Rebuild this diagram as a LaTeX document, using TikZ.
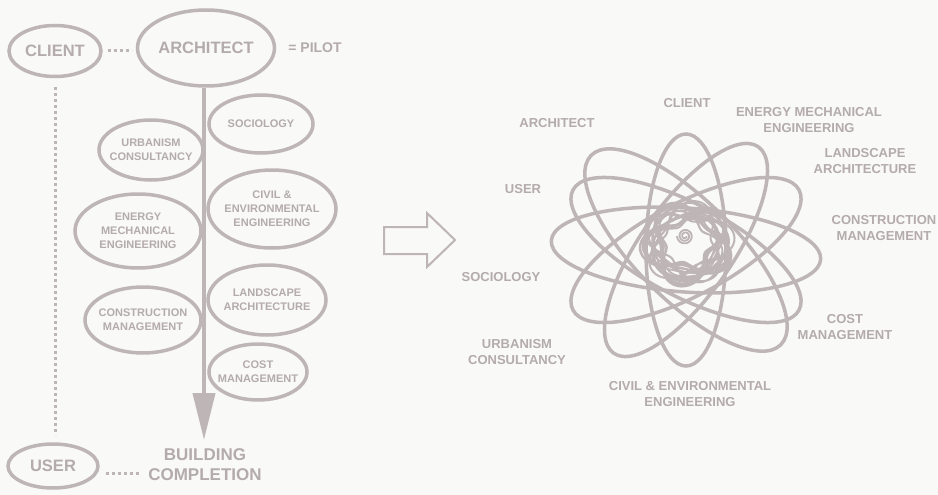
\documentclass[tikz,border=0pt]{standalone}
\usepackage{fontspec}
\setmainfont{Liberation Sans}
\usetikzlibrary{shapes.geometric,arrows.meta}
\definecolor{ink}{RGB}{190,182,182}
\definecolor{txt}{RGB}{180,171,171}
\definecolor{paper}{RGB}{249,249,247}
\begin{document}
\begin{tikzpicture}[x=1pt,y=-1pt,
  oval/.style={ellipse, draw=ink, line width=3.5pt, inner sep=0pt},
  otext/.style={text=txt, font=\bfseries\fontsize{11}{14}\selectfont, align=center},
  btext/.style={text=txt, font=\bfseries\fontsize{16.5}{20}\selectfont, align=center},
  lbl/.style={text=txt, font=\bfseries\fontsize{13}{15.5}\selectfont, align=center},
  dotline/.style={draw=ink, line width=3pt, dash pattern=on 3pt off 3pt},
  orbit/.style={draw=ink, line width=3.5pt}]
\fill[paper] (0,0) rectangle (938,495);
\useasboundingbox (0,0) rectangle (938,495);

% ---- left diagram ----
\node[oval, minimum width=92pt, minimum height=51pt, label={[btext]center:CLIENT}] (client) at (55,51) {};
\node[oval, minimum width=137pt, minimum height=76pt, label={[btext]center:ARCHITECT}] (architect) at (206,48) {};
\node[text=txt, font=\bfseries\fontsize{14}{16}\selectfont] (pilot) at (315,48) {= PILOT};
\node[oval, minimum width=104pt, minimum height=58pt, label={[otext]center:SOCIOLOGY}] (sociology) at (261,124) {};
\node[oval, minimum width=104pt, minimum height=60pt, label={[otext]center:{URBANISM\\CONSULTANCY}}] (urban) at (151,150) {};
\node[oval, minimum width=126pt, minimum height=74pt, label={[otext]center:{ENERGY\\MECHANICAL\\ENGINEERING}}] (energy) at (138,231) {};
\node[oval, minimum width=128pt, minimum height=78pt, label={[otext]center:{CIVIL \&\\ENVIRONMENTAL\\ENGINEERING}}] (civil) at (272,209) {};
\node[oval, minimum width=118pt, minimum height=70pt, label={[otext]center:{LANDSCAPE\\ARCHITECTURE}}] (landscape) at (267,300) {};
\node[oval, minimum width=116pt, minimum height=66pt, label={[otext]center:{CONSTRUCTION\\MANAGEMENT}}] (construction) at (143,320) {};
\node[oval, minimum width=98pt, minimum height=56pt, label={[otext]center:{COST\\MANAGEMENT}}] (cost) at (258,372) {};
\node[oval, minimum width=90pt, minimum height=44pt, label={[btext]center:USER}] (user) at (53,466) {};
\node[text=txt, font=\bfseries\fontsize{17}{20}\selectfont, align=center] (building) at (205,465) {BUILDING\\COMPLETION};
\coordinate (tip) at (204,440);

\draw[ink, line width=4pt, -{Triangle[length=47pt,width=22pt]}] (architect.south -| tip) -- (tip);
\draw[dotline, shorten <=5pt, shorten >=4pt] (client.east) -- (client.east -| architect.west);
\draw[dotline, shorten <=9pt, shorten >=7pt] (client.south) -- (client.south |- user.north);
\draw[dotline, shorten <=6pt, shorten >=6pt] ([yshift=-7pt]user.east) -- ([yshift=-7pt]user.east -| building.west);

% ---- hollow arrow ----
\draw[ink, line width=2pt, line join=miter] (384,227) -- (427,227) -- (427,213) -- (455,240) -- (427,267) -- (427,254) -- (384,254) -- cycle;

% ---- atom ----
\begin{scope}[shift={(686,250)}]
  \draw[orbit, rotate=90]  (0,0) ellipse [x radius=116pt, y radius=40pt];
  \draw[orbit, rotate=135] (0,0) ellipse [x radius=134pt, y radius=50pt];
  \draw[orbit, rotate=55]  (0,0) ellipse [x radius=126pt, y radius=46pt];
  \draw[orbit, rotate=28]  (0,0) ellipse [x radius=128pt, y radius=46pt];
  \draw[orbit, rotate=152] (0,0) ellipse [x radius=128pt, y radius=46pt];
  \draw[orbit, rotate=176] (0,0) ellipse [x radius=135pt, y radius=42pt];
\end{scope}
\draw[ink, line width=2pt] plot[domain=0:5040, samples=1100, smooth]
  ({(35+8*sin(2.3*\x)+4*cos(3.1*\x))*cos(\x)+688}, {(35+8*sin(2.3*\x)+4*cos(3.1*\x))*sin(\x)*0.92+243});
\draw[ink, line width=1.8pt] plot[domain=0:4680, samples=1000, smooth]
  ({(34+9*sin(1.7*\x)+5*sin(3.3*\x+40))*cos(\x)+687}, {(34+9*sin(1.7*\x)+5*sin(3.3*\x+40))*sin(\x)*0.9+244});
\draw[ink, line width=1.8pt] plot[domain=0:900, samples=120, smooth]
  ({(1.5+\x/900*6.5)*cos(\x)+685}, {(1.5+\x/900*6.5)*sin(\x)+236});

% ---- right labels ----
\node[lbl] (rarch) at (557,123) {ARCHITECT};
\node[lbl] (rclient) at (687,103) {CLIENT};
\node[lbl] (renergy) at (809,120) {ENERGY MECHANICAL\\ENGINEERING};
\node[lbl] (rland) at (865,161) {LANDSCAPE\\ARCHITECTURE};
\node[lbl] (rcons) at (884,228) {CONSTRUCTION\\MANAGEMENT};
\node[lbl] (rcost) at (845,327) {COST\\MANAGEMENT};
\node[lbl] (rcivil) at (690,394) {CIVIL \& ENVIRONMENTAL\\ENGINEERING};
\node[lbl] (rurban) at (517,352) {URBANISM\\CONSULTANCY};
\node[lbl] (rsoc) at (501,277) {SOCIOLOGY};
\node[lbl] (ruser) at (523,189) {USER};
\end{tikzpicture}
\end{document}
